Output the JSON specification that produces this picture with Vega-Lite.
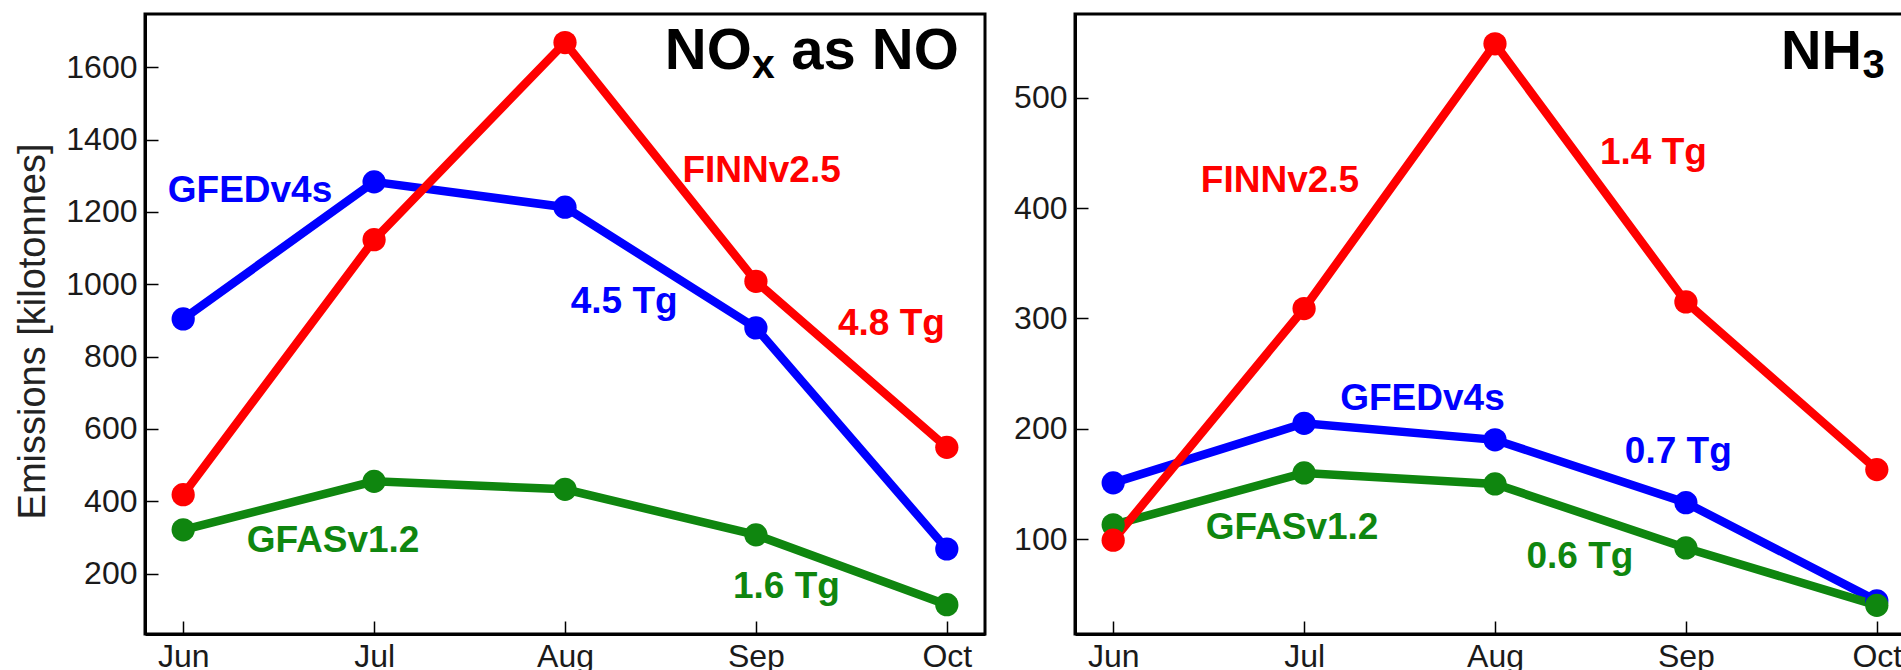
{
  "$schema": "https://vega.github.io/schema/vega-lite/v6.json",
  "autosize": {"type": "pad"},
  "padding": {"left": 12, "top": 12, "right": 0, "bottom": 0},
  "background": "white",
  "spacing": 90,
  "bounds": "flush",
  "datasets": {
    "nox": [
      {"series": "GFEDv4s", "m": 0, "v": 904},
      {"series": "GFEDv4s", "m": 1, "v": 1283},
      {"series": "GFEDv4s", "m": 2, "v": 1213},
      {"series": "GFEDv4s", "m": 3, "v": 879},
      {"series": "GFEDv4s", "m": 4, "v": 268},
      {"series": "GFASv1.2", "m": 0, "v": 321},
      {"series": "GFASv1.2", "m": 1, "v": 455},
      {"series": "GFASv1.2", "m": 2, "v": 433},
      {"series": "GFASv1.2", "m": 3, "v": 307},
      {"series": "GFASv1.2", "m": 4, "v": 114},
      {"series": "FINNv2.5", "m": 0, "v": 418},
      {"series": "FINNv2.5", "m": 1, "v": 1123},
      {"series": "FINNv2.5", "m": 2, "v": 1668},
      {"series": "FINNv2.5", "m": 3, "v": 1008},
      {"series": "FINNv2.5", "m": 4, "v": 549}
    ],
    "nh3": [
      {"series": "GFEDv4s", "m": 0, "v": 151},
      {"series": "GFEDv4s", "m": 1, "v": 205},
      {"series": "GFEDv4s", "m": 2, "v": 190},
      {"series": "GFEDv4s", "m": 3, "v": 133},
      {"series": "GFEDv4s", "m": 4, "v": 44},
      {"series": "GFASv1.2", "m": 0, "v": 113},
      {"series": "GFASv1.2", "m": 1, "v": 160},
      {"series": "GFASv1.2", "m": 2, "v": 150},
      {"series": "GFASv1.2", "m": 3, "v": 92},
      {"series": "GFASv1.2", "m": 4, "v": 40},
      {"series": "FINNv2.5", "m": 0, "v": 99},
      {"series": "FINNv2.5", "m": 1, "v": 309},
      {"series": "FINNv2.5", "m": 2, "v": 549},
      {"series": "FINNv2.5", "m": 3, "v": 315},
      {"series": "FINNv2.5", "m": 4, "v": 163}
    ],
    "noxAnn": [
      {"series": "GFEDv4s", "label": "GFEDv4s", "x": 0.35, "y": 1257},
      {"series": "FINNv2.5", "label": "FINNv2.5", "x": 3.03, "y": 1313},
      {"series": "GFEDv4s", "label": "4.5 Tg", "x": 2.31, "y": 951},
      {"series": "FINNv2.5", "label": "4.8 Tg", "x": 3.71, "y": 891},
      {"series": "GFASv1.2", "label": "GFASv1.2", "x": 0.785, "y": 289},
      {"series": "GFASv1.2", "label": "1.6 Tg", "x": 3.16, "y": 164}
    ],
    "nh3Ann": [
      {"series": "FINNv2.5", "label": "FINNv2.5", "x": 0.874, "y": 425},
      {"series": "FINNv2.5", "label": "1.4 Tg", "x": 2.83, "y": 450},
      {"series": "GFEDv4s", "label": "GFEDv4s", "x": 1.62, "y": 227},
      {"series": "GFEDv4s", "label": "0.7 Tg", "x": 2.96, "y": 179},
      {"series": "GFASv1.2", "label": "GFASv1.2", "x": 0.937, "y": 110},
      {"series": "GFASv1.2", "label": "0.6 Tg", "x": 2.445, "y": 84}
    ],
    "noxTitle": [
      {"part": "main", "label": "NO", "x": 4.063, "y": 1594},
      {"part": "sub", "label": "x", "x": 4.063, "y": 1594},
      {"part": "tail", "label": "as NO", "x": 4.063, "y": 1594}
    ],
    "nh3Title": [
      {"part": "main", "label": "NH", "x": 4.042, "y": 526},
      {"part": "sub", "label": "3", "x": 4.042, "y": 526}
    ]
  },
  "config": {
    "view": {"stroke": "black", "strokeWidth": 3},
    "font": "Liberation Sans",
    "axis": {
      "labelFont": "Liberation Sans",
      "labelFontSize": 32,
      "labelColor": "#1a1a1a",
      "tickColor": "black",
      "tickWidth": 1.5,
      "tickSize": -13,
      "domainColor": "black",
      "domainWidth": 3,
      "grid": false,
      "labelOverlap": false,
      "labelFlush": false,
      "titleFont": "Liberation Sans",
      "titleFontWeight": "normal",
      "titleFontSize": 38,
      "titleColor": "#222222"
    }
  },
  "hconcat": [
    {
      "width": 840,
      "height": 620,
      "layer": [
        {
          "data": {"name": "nox"},
          "mark": {"type": "line", "strokeWidth": 8.5},
          "encoding": {
            "x": {"field": "m", "type": "quantitative", "scale": {"domain": [-0.2, 4.2], "nice": false, "zero": false},
                  "axis": {"values": [0, 1, 2, 3, 4], "labelExpr": "['Jun','Jul','Aug','Sep','Oct'][datum.value]", "title": null, "labelPadding": 20}},
            "y": {"field": "v", "type": "quantitative", "scale": {"domain": [33, 1747], "nice": false, "zero": false},
                  "axis": {"values": [200, 400, 600, 800, 1000, 1200, 1400, 1600], "format": "d", "title": "Emissions [kilotonnes]", "titleAngle": -90, "titleX": -131, "titleY": 317, "titleAlign": "center", "titleBaseline": "top", "labelPadding": 21}},
            "color": {"field": "series", "type": "nominal", "legend": null,
                      "scale": {"domain": ["GFEDv4s", "GFASv1.2", "FINNv2.5"], "range": ["#0000ff", "#0f860f", "#ff0000"]}}
          }
        },
        {
          "data": {"name": "nox"},
          "mark": {"type": "point", "filled": true, "size": 540, "opacity": 1},
          "encoding": {
            "x": {"field": "m", "type": "quantitative"},
            "y": {"field": "v", "type": "quantitative"},
            "color": {"field": "series", "type": "nominal", "legend": null}
          }
        },
        {
          "data": {"name": "noxAnn"},
          "mark": {"type": "text", "fontSize": 37, "fontWeight": "bold", "align": "center", "baseline": "middle"},
          "encoding": {
            "x": {"field": "x", "type": "quantitative"},
            "y": {"field": "y", "type": "quantitative"},
            "text": {"field": "label"},
            "color": {"field": "series", "type": "nominal", "legend": null}
          }
        },
        {
          "data": {"name": "noxTitle"},
          "transform": [{"filter": "datum.part == 'tail'"}],
          "mark": {"type": "text", "fontSize": 58, "fontWeight": "bold", "align": "right", "baseline": "alphabetic", "color": "black"},
          "encoding": {
            "x": {"field": "x", "type": "quantitative"},
            "y": {"field": "y", "type": "quantitative"},
            "text": {"field": "label"}
          }
        },
        {
          "data": {"name": "noxTitle"},
          "transform": [{"filter": "datum.part == 'sub'"}],
          "mark": {"type": "text", "fontSize": 41, "fontWeight": "bold", "align": "right", "baseline": "alphabetic", "color": "black", "dx": -184, "dy": 9},
          "encoding": {
            "x": {"field": "x", "type": "quantitative"},
            "y": {"field": "y", "type": "quantitative"},
            "text": {"field": "label"}
          }
        },
        {
          "data": {"name": "noxTitle"},
          "transform": [{"filter": "datum.part == 'main'"}],
          "mark": {"type": "text", "fontSize": 58, "fontWeight": "bold", "align": "right", "baseline": "alphabetic", "color": "black", "dx": -207},
          "encoding": {
            "x": {"field": "x", "type": "quantitative"},
            "y": {"field": "y", "type": "quantitative"},
            "text": {"field": "label"}
          }
        }
      ]
    },
    {
      "width": 840,
      "height": 620,
      "layer": [
        {
          "data": {"name": "nh3"},
          "mark": {"type": "line", "strokeWidth": 8.5},
          "encoding": {
            "x": {"field": "m", "type": "quantitative", "scale": {"domain": [-0.2, 4.2], "nice": false, "zero": false},
                  "axis": {"values": [0, 1, 2, 3, 4], "labelExpr": "['Jun','Jul','Aug','Sep','Oct'][datum.value]", "title": null, "labelPadding": 20}},
            "y": {"field": "v", "type": "quantitative", "scale": {"domain": [14, 576], "nice": false, "zero": false},
                  "axis": {"values": [100, 200, 300, 400, 500], "format": "d", "title": null, "labelPadding": 21}},
            "color": {"field": "series", "type": "nominal", "legend": null,
                      "scale": {"domain": ["GFEDv4s", "GFASv1.2", "FINNv2.5"], "range": ["#0000ff", "#0f860f", "#ff0000"]}}
          }
        },
        {
          "data": {"name": "nh3"},
          "mark": {"type": "point", "filled": true, "size": 540, "opacity": 1},
          "encoding": {
            "x": {"field": "m", "type": "quantitative"},
            "y": {"field": "v", "type": "quantitative"},
            "color": {"field": "series", "type": "nominal", "legend": null}
          }
        },
        {
          "data": {"name": "nh3Ann"},
          "mark": {"type": "text", "fontSize": 37, "fontWeight": "bold", "align": "center", "baseline": "middle"},
          "encoding": {
            "x": {"field": "x", "type": "quantitative"},
            "y": {"field": "y", "type": "quantitative"},
            "text": {"field": "label"},
            "color": {"field": "series", "type": "nominal", "legend": null}
          }
        },
        {
          "data": {"name": "nh3Title"},
          "transform": [{"filter": "datum.part == 'sub'"}],
          "mark": {"type": "text", "fontSize": 40, "fontWeight": "bold", "align": "right", "baseline": "alphabetic", "color": "black", "dy": 9},
          "encoding": {
            "x": {"field": "x", "type": "quantitative"},
            "y": {"field": "y", "type": "quantitative"},
            "text": {"field": "label"}
          }
        },
        {
          "data": {"name": "nh3Title"},
          "transform": [{"filter": "datum.part == 'main'"}],
          "mark": {"type": "text", "fontSize": 56, "fontWeight": "bold", "align": "right", "baseline": "alphabetic", "color": "black", "dx": -23},
          "encoding": {
            "x": {"field": "x", "type": "quantitative"},
            "y": {"field": "y", "type": "quantitative"},
            "text": {"field": "label"}
          }
        }
      ]
    }
  ]
}
